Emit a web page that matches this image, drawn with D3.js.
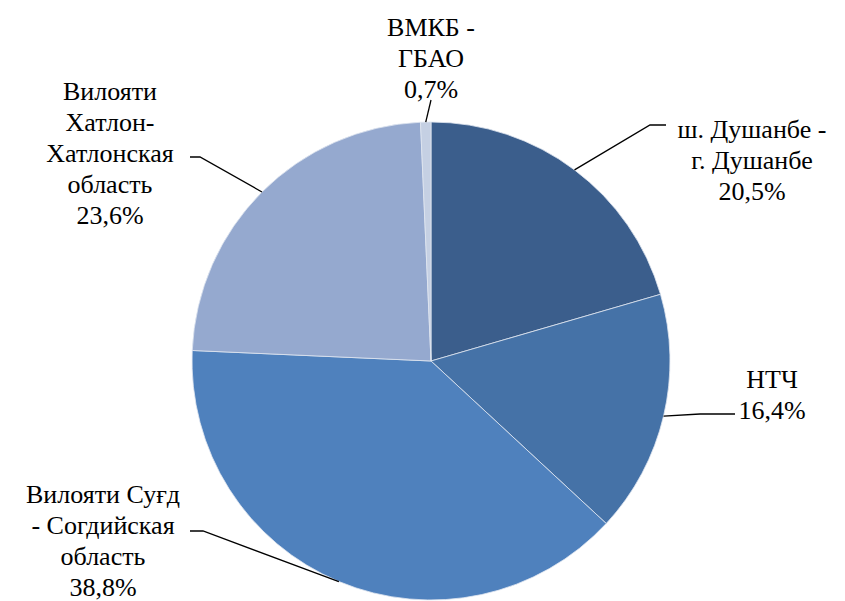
<!DOCTYPE html>
<html>
<head>
<meta charset="utf-8">
<script src="https://cdn.jsdelivr.net/npm/d3@7"></script>
<style>
  html, body { margin: 0; padding: 0; background: #fff; }
  svg { display: block; }
</style>
</head>
<body>
<div id="chart"></div>
<script>
// data, clockwise from 12 o'clock
const regions = [
    ["ш. Душанбе -", "г. Душанбе"],
    ["НТЧ"],
    ["Вилояти Суғд", "- Согдийская", "область"],
    ["Вилояти", "Хатлон-", "Хатлонская", "область"],
    ["ВМКБ -", "ГБАО"]
];
const shares = [20.5, 16.4, 38.8, 23.6, 0.7];
const shareLabels = ["20,5%", "16,4%", "38,8%", "23,6%", "0,7%"];
const colors = ["#3b5e8c", "#4572a7", "#4f81bd", "#95a9cf", "#c5d0e3"];

// label layout: text centre x, first line y, elbow point, line end near text
const labelLayout = [
    {x: 752, y: 138, elbow: [650, 125], end: [666, 125]},
    {x: 772, y: 388, elbow: [700, 414], end: [735, 414]},
    {x: 103, y: 503, elbow: [203, 531], end: [190, 531]},
    {x: 110, y: 100, elbow: [200, 157], end: [190, 157]},
    {x: 431, y: 36,  elbow: [431, 100], end: [431, 100]}
];

const fontFamily = "'Liberation Serif', 'DejaVu Serif', serif";
const width = 845, height = 601;
const cx = 431, cy = 361, radius = 239;
const lineH = 31;

const svg = d3.select("#chart").append("svg")
    .attr("width", width)
    .attr("height", height);

// fit font size so "Хатлонская" is about 150px wide, whatever serif we got
const probe = svg.append("text")
    .attr("font-family", fontFamily)
    .attr("font-size", 20)
    .text("Хатлонская");
const w20 = probe.node().getComputedTextLength();
probe.remove();
const fontSize = Math.min(26, 20 * 150 / w20);

const g = svg.append("g").attr("transform", `translate(${cx},${cy})`);

const pie = d3.pie().sort(null).value(d => d)(shares);
const arc = d3.arc().innerRadius(0).outerRadius(radius);

g.selectAll("path.slice")
    .data(pie)
    .enter().append("path")
    .attr("class", "slice")
    .attr("d", arc)
    .attr("fill", (d, i) => colors[i])
    .attr("stroke", "#dfe6f0")
    .attr("stroke-width", 0.8);

// leader lines
pie.forEach((d, i) => {
    const a = (d.startAngle + d.endAngle) / 2;
    const p0 = [cx + Math.sin(a) * radius, cy - Math.cos(a) * radius];
    const L = labelLayout[i];
    svg.append("polyline")
        .attr("points", [p0, L.elbow, L.end].map(p => p.join(",")).join(" "))
        .attr("fill", "none")
        .attr("stroke", "#000")
        .attr("stroke-width", 1.3);
});

// labels
regions.forEach((lines, i) => {
    const L = labelLayout[i];
    const t = svg.append("text")
        .attr("font-family", fontFamily)
        .style("font-family", fontFamily)
        .attr("font-size", fontSize)
        .attr("fill", "#000")
        .attr("text-anchor", "middle")
        .attr("x", L.x)
        .attr("y", L.y);
    lines.concat([shareLabels[i]]).forEach((s, k) => {
        t.append("tspan")
            .attr("x", L.x)
            .attr("y", L.y + k * lineH)
            .text(s);
    });
});
</script>
</body>
</html>
